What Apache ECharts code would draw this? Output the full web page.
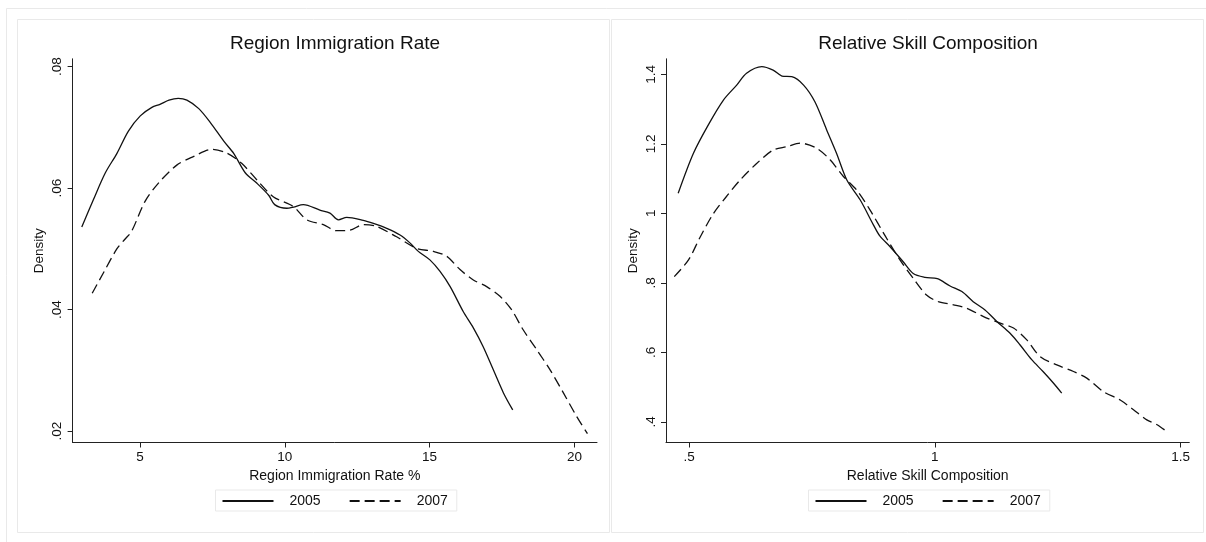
<!DOCTYPE html>
<html>
<head>
<meta charset="utf-8">
<script src="https://cdn.jsdelivr.net/npm/echarts@6/dist/echarts.min.js"></script>
<style>
html,body{margin:0;padding:0;background:#fff;}
#chart{width:1206px;height:542px;}
</style>
</head>
<body>
<div id="chart"></div>
<script>
// ---- Data ----
const legendNames = ['2005', '2007'];
const leftTitle = 'Region Immigration Rate';
const rightTitle = 'Relative Skill Composition';
const leftXName = 'Region Immigration Rate %';
const rightXName = 'Relative Skill Composition';
const yName = 'Density';

const leftXTicks = [5, 10, 15, 20];
const leftYTicks = [0.02, 0.04, 0.06, 0.08];
const rightXTicks = [0.5, 1, 1.5];
const rightYTicks = [0.4, 0.6, 0.8, 1, 1.2, 1.4];

// Left panel: Region Immigration Rate, 2005 (solid)
const leftX2005 = [2.99, 3.39, 3.80, 4.20, 4.60, 5.01, 5.41, 5.69, 6.00, 6.32, 6.62, 7.03, 7.43, 7.90, 8.24, 8.64, 9.04, 9.45, 9.65, 10.07, 10.30, 10.64, 11.21, 11.56, 11.85, 12.14, 12.71, 13.06, 13.52, 13.98, 14.32, 14.61, 15.01, 15.36, 15.71, 16.16, 16.51, 16.85, 17.20, 17.55, 17.87];
const leftY2005 = [0.0536, 0.0581, 0.0625, 0.0657, 0.0694, 0.0719, 0.0733, 0.0738, 0.0745, 0.0748, 0.0745, 0.0731, 0.0708, 0.0677, 0.0657, 0.0625, 0.0608, 0.0588, 0.0573, 0.0567, 0.0569, 0.0573, 0.0564, 0.0559, 0.0548, 0.0552, 0.0547, 0.0542, 0.0534, 0.0523, 0.0510, 0.0496, 0.0482, 0.0463, 0.0438, 0.0397, 0.0370, 0.0339, 0.0301, 0.0263, 0.0235];
// Left panel, 2007 (dashed)
const leftX2007 = [3.35, 3.73, 4.20, 4.48, 4.71, 5.17, 5.63, 6.27, 6.84, 7.48, 7.99, 8.51, 9.03, 9.60, 10.29, 10.76, 11.33, 11.79, 12.25, 12.71, 13.17, 13.86, 14.55, 15.13, 15.59, 16.05, 16.51, 16.97, 17.43, 17.83, 18.23, 18.70, 19.16, 19.62, 20.08, 20.45];
const leftY2007 = [0.0427, 0.0460, 0.0500, 0.0516, 0.0529, 0.0578, 0.0608, 0.0638, 0.0652, 0.0664, 0.0658, 0.0641, 0.0614, 0.0586, 0.0570, 0.0548, 0.0540, 0.0530, 0.0531, 0.0540, 0.0537, 0.0520, 0.0501, 0.0496, 0.0488, 0.0466, 0.0449, 0.0438, 0.0422, 0.0400, 0.0367, 0.0334, 0.0301, 0.0263, 0.0224, 0.0196];

// Right panel: Relative Skill Composition, 2005 (solid)
const rightX2005 = [0.478, 0.509, 0.539, 0.570, 0.597, 0.617, 0.648, 0.671, 0.689, 0.709, 0.733, 0.756, 0.780, 0.800, 0.821, 0.848, 0.875, 0.888, 0.909, 0.936, 0.956, 0.980, 1.005, 1.031, 1.055, 1.078, 1.102, 1.126, 1.153, 1.173, 1.197, 1.220, 1.241, 1.258];
const rightY2005 = [1.058, 1.173, 1.254, 1.326, 1.369, 1.403, 1.422, 1.412, 1.395, 1.393, 1.369, 1.321, 1.240, 1.173, 1.096, 1.039, 0.967, 0.935, 0.904, 0.860, 0.827, 0.816, 0.812, 0.791, 0.775, 0.746, 0.722, 0.689, 0.655, 0.622, 0.579, 0.545, 0.512, 0.483];
// Right panel, 2007 (dashed)
const rightX2007 = [0.470, 0.499, 0.522, 0.549, 0.577, 0.604, 0.638, 0.671, 0.699, 0.726, 0.760, 0.787, 0.814, 0.841, 0.868, 0.899, 0.929, 0.956, 0.983, 1.007, 1.038, 1.065, 1.099, 1.133, 1.160, 1.187, 1.214, 1.248, 1.282, 1.309, 1.343, 1.377, 1.404, 1.431, 1.452, 1.472];
const rightY2007 = [0.818, 0.866, 0.930, 0.998, 1.050, 1.096, 1.144, 1.182, 1.192, 1.202, 1.187, 1.154, 1.106, 1.067, 1.010, 0.935, 0.866, 0.813, 0.765, 0.746, 0.737, 0.727, 0.703, 0.684, 0.670, 0.636, 0.588, 0.564, 0.545, 0.526, 0.487, 0.463, 0.435, 0.406, 0.392, 0.372];

// ---- Build chart ----
const FONT = '"Liberation Sans", Arial, Helvetica, sans-serif';
const INK = '#111';
const FRAME = '#e9e9e9';
const pairs = (xs, ys) => xs.map((x, i) => [x, ys[i]]);
const fmt = v => String(+(+v).toFixed(4)).replace(/^0\./, '.');

function xAxis(grid, min, max, ticks, name) {
  return {
    type: 'value', gridIndex: grid, min: min, max: max,
    name: name, nameLocation: 'middle', nameGap: 22,
    nameTextStyle: { fontFamily: FONT, fontSize: 14, color: INK, verticalAlign: 'top' },
    axisLine: { show: true, onZero: false, lineStyle: { color: '#222', width: 1 } },
    axisTick: { show: true, length: 5, customValues: ticks, lineStyle: { color: '#222' } },
    axisLabel: { customValues: ticks, formatter: fmt, margin: 8, fontFamily: FONT, fontSize: 13.5, color: INK },
    splitLine: { show: false }
  };
}
function yAxis(grid, min, max, ticks) {
  return {
    type: 'value', gridIndex: grid, min: min, max: max,
    name: yName, nameLocation: 'middle', nameGap: 26, nameRotate: 90,
    nameTextStyle: { fontFamily: FONT, fontSize: 13.5, color: INK },
    axisLine: { show: true, onZero: false, lineStyle: { color: '#222', width: 1 } },
    axisTick: { show: true, length: 5, customValues: ticks, lineStyle: { color: '#222' } },
    axisLabel: { customValues: ticks, formatter: fmt, rotate: 90, margin: 8, fontFamily: FONT, fontSize: 13.5, color: INK },
    splitLine: { show: false }
  };
}
function series(name, xi, data, dashed) {
  return {
    name: name, type: 'line', xAxisIndex: xi, yAxisIndex: xi,
    data: data, symbol: 'none', showSymbol: false, smooth: 0.3,
    lineStyle: { color: INK, width: 1.3, type: dashed ? [10, 5] : 'solid' },
    itemStyle: { color: INK },
    emphasis: { disabled: true },
    animation: false, z: 3
  };
}
function legend(left) {
  return {
    data: legendNames, left: left, top: 490, orient: 'horizontal',
    itemWidth: 51, itemHeight: 14, itemGap: 28,
    padding: [4, 9, 3, 6],
    borderColor: FRAME, borderWidth: 1, backgroundColor: '#fff',
    itemStyle: { opacity: 0, borderWidth: 0 },
    textStyle: { fontFamily: FONT, fontSize: 14, color: INK, padding: [0, 0, 0, 11] },
    selectedMode: false
  };
}

const chart = echarts.init(document.getElementById('chart'), null, { renderer: 'canvas' });
chart.setOption({
  animation: false,
  backgroundColor: '#fff',
  graphic: [
    { type: 'rect', shape: { x: 6.5, y: 8.5, width: 1230, height: 560 }, style: { fill: null, stroke: FRAME, lineWidth: 1 }, silent: true, z: -10 },
    { type: 'rect', shape: { x: 17.5, y: 19.5, width: 592, height: 513 }, style: { fill: '#fff', stroke: FRAME, lineWidth: 1 }, silent: true, z: -9 },
    { type: 'rect', shape: { x: 611.5, y: 19.5, width: 592, height: 513 }, style: { fill: '#fff', stroke: FRAME, lineWidth: 1 }, silent: true, z: -9 }
  ],
  title: [
    { text: leftTitle, left: 335, top: 34, textAlign: 'center', padding: 0,
      textStyle: { fontFamily: FONT, fontSize: 19, fontWeight: 'normal', color: INK } },
    { text: rightTitle, left: 928, top: 34, textAlign: 'center', padding: 0,
      textStyle: { fontFamily: FONT, fontSize: 19, fontWeight: 'normal', color: INK } }
  ],
  legend: [legend(215.5), legend(808.5)],
  grid: [
    { left: 72.6, top: 58.8, width: 524.4, height: 383.7, containLabel: false },
    { left: 666, top: 58.8, width: 523.3, height: 383.7, containLabel: false }
  ],
  xAxis: [
    xAxis(0, 2.673, 20.78, leftXTicks, leftXName),
    xAxis(1, 0.4532, 1.5175, rightXTicks, rightXName)
  ],
  yAxis: [
    yAxis(0, 0.01814, 0.0813, leftYTicks),
    yAxis(1, 0.3408, 1.4446, rightYTicks)
  ],
  series: [
    series(legendNames[0], 0, pairs(leftX2005, leftY2005), false),
    series(legendNames[1], 0, pairs(leftX2007, leftY2007), true),
    series(legendNames[0], 1, pairs(rightX2005, rightY2005), false),
    series(legendNames[1], 1, pairs(rightX2007, rightY2007), true)
  ]
});
</script>
</body>
</html>
